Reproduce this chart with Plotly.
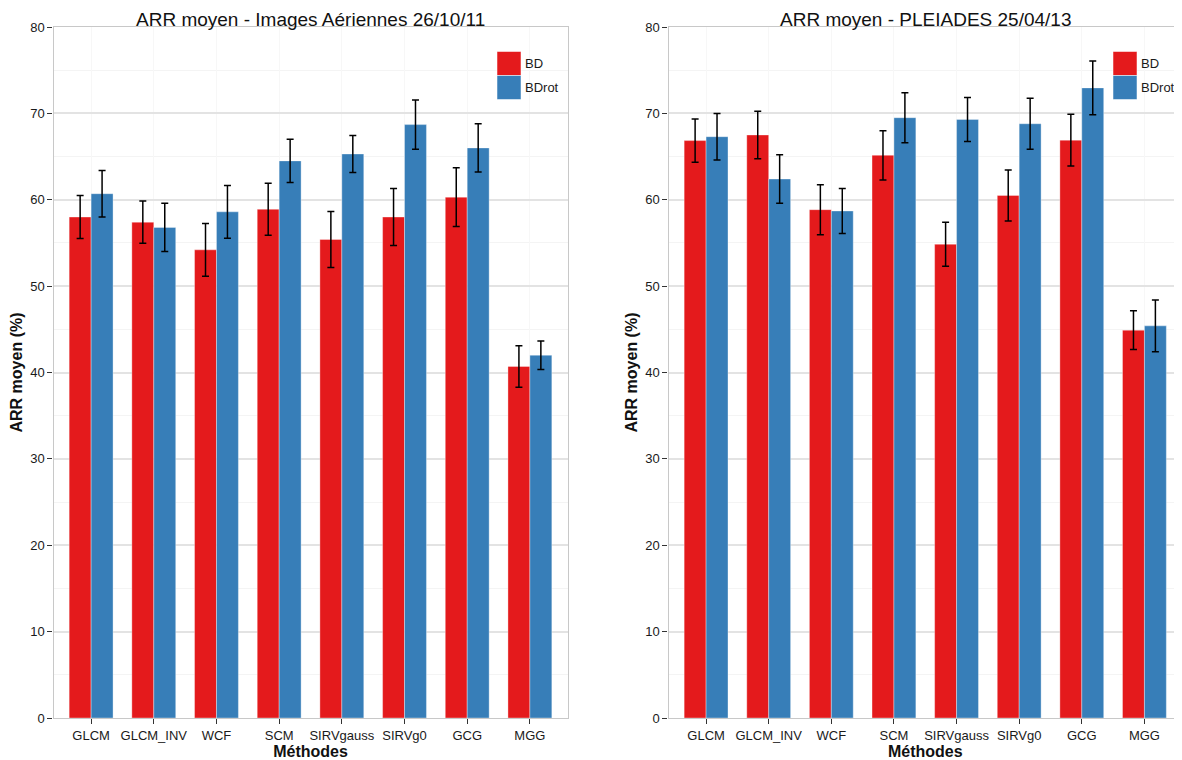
import plotly.graph_objects as go

methods = ["GLCM", "GLCM_INV", "WCF", "SCM", "SIRVgauss", "SIRVg0", "GCG", "MGG"]

# Panel 1 : Images Aériennes 26/10/11
aer_bd = [58.0, 57.4, 54.2, 58.9, 55.4, 58.0, 60.3, 40.7]
aer_bd_err = [2.5, 2.45, 3.05, 3.0, 3.25, 3.3, 3.4, 2.4]
aer_bdrot = [60.7, 56.8, 58.6, 64.5, 65.3, 68.7, 66.0, 42.0]
aer_bdrot_err = [2.7, 2.8, 3.05, 2.5, 2.15, 2.85, 2.8, 1.65]

# Panel 2 : PLEIADES 25/04/13
ple_bd = [66.85, 67.5, 58.85, 65.15, 54.85, 60.5, 66.9, 44.9]
ple_bd_err = [2.5, 2.75, 2.9, 2.85, 2.55, 2.95, 3.0, 2.25]
ple_bdrot = [67.3, 62.4, 58.7, 69.5, 69.3, 68.8, 72.95, 45.4]
ple_bdrot_err = [2.7, 2.8, 2.6, 2.9, 2.55, 2.95, 3.1, 3.0]

titles = ["ARR moyen - Images Aériennes 26/10/11", "ARR moyen - PLEIADES 25/04/13"]
series_names = ["BD", "BDrot"]
y_ticks = [0, 10, 20, 30, 40, 50, 60, 70, 80]

RED = "#E41A1C"
BLUE = "#377EB8"
COLORS = [RED, BLUE]
FONT = "Liberation Sans, Arial, sans-serif"

# the page places the figure 8px from its top-left corner
OFF = 8
W, H = 1182 - OFF, 760 - OFF


def px(page_x):
    return (page_x - OFF) / W


def py(page_y):
    return 1 - (page_y - OFF) / H


fig = go.Figure()

panels = [
    ("x", "y", aer_bd, aer_bd_err, aer_bdrot, aer_bdrot_err),
    ("x2", "y2", ple_bd, ple_bd_err, ple_bdrot, ple_bdrot_err),
]
for xa, ya, bd, bde, bdr, bdre in panels:
    for name, vals, errs, col in [(series_names[0], bd, bde, RED), (series_names[1], bdr, bdre, BLUE)]:
        fig.add_trace(go.Bar(
            x=methods, y=vals, name=name, xaxis=xa, yaxis=ya, showlegend=False,
            marker=dict(color=col, line=dict(color="rgba(255,255,255,0.35)", width=1)),
            error_y=dict(type="data", array=errs, color="black", thickness=1.5, width=3.5),
        ))

dom1 = [px(53.5), px(567.5)]
dom2 = [px(668.5), 1.0]
ydom = [py(718), py(27)]

axis_common = dict(
    showline=True, linecolor="#c8c8c8", linewidth=1.2, mirror=True,
    ticks="outside", ticklen=5, tickcolor="#333", tickwidth=1,
    tickfont=dict(family=FONT, size=13, color="#1a1a1a"), automargin=False,
)


def xaxis_cfg(dom, anchor):
    return dict(domain=dom, anchor=anchor, range=[-0.6, 7.6], showgrid=True, gridcolor="#f7f7f7",
                title=dict(text="<b>Méthodes</b>", font=dict(size=16, color="#111"), standoff=0),
                **axis_common)


def yaxis_cfg(anchor):
    return dict(domain=ydom, anchor=anchor, range=[0, 80], tickvals=y_ticks,
                showgrid=True, gridcolor="#e3e3e3", gridwidth=1.5,
                minor=dict(dtick=5, tick0=0, showgrid=True, gridcolor="#f4f4f4", gridwidth=1, ticks=""),
                title=dict(text="<b>ARR moyen (%)</b>", font=dict(size=16, color="#111"), standoff=3),
                **axis_common)


fig.update_layout(
    width=W, height=H,
    margin=dict(l=0, r=0, t=0, b=0, autoexpand=False),
    paper_bgcolor="white", plot_bgcolor="white",
    barmode="group", bargap=0.3, bargroupgap=0.0,
    font=dict(family=FONT, color="#1a1a1a"),
    xaxis=xaxis_cfg(dom1, "y"), yaxis=yaxis_cfg("x"),
    xaxis2=xaxis_cfg(dom2, "y2"), yaxis2=yaxis_cfg("x2"),
    showlegend=False,
)

for t, cx in zip(titles, [310.5, 925]):
    fig.add_annotation(text=t, x=px(cx), y=1.0, xref="paper", yref="paper",
                       showarrow=False, font=dict(family=FONT, size=19, color="#111"),
                       xanchor="center", yanchor="top", borderpad=0)

# legend keys drawn inside each panel (top right)
for kx in [497, 1113]:
    for i, (name, col) in enumerate(zip(series_names, COLORS)):
        y_top = 51.5 + i * 24
        fig.add_shape(type="rect", xref="paper", yref="paper",
                      x0=px(kx), x1=px(kx + 24), y0=py(y_top + 24), y1=py(y_top),
                      fillcolor=col, line=dict(color="rgba(255,255,255,0.5)", width=1), layer="above")
        fig.add_annotation(text=name, xref="paper", yref="paper", x=px(kx + 26), y=py(y_top + 12),
                           showarrow=False, xanchor="left", yanchor="middle",
                           font=dict(family=FONT, size=13, color="#1a1a1a"))

fig.write_html("out.html")
